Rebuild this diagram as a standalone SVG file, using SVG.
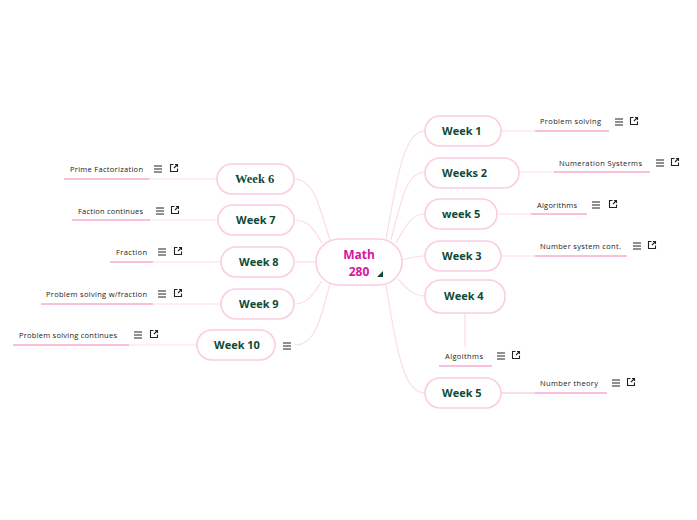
<svg xmlns="http://www.w3.org/2000/svg" width="697" height="520" viewBox="0 0 697 520">
<defs>
<style>
.node{fill:#ffffff;stroke:#fbcde3;stroke-width:1.6}
.nt{font-family:"Open Sans","Noto Sans",sans-serif;font-weight:bold;font-size:11px;fill:#0f4a36}
.ntser{font-family:"Liberation Serif","DejaVu Serif",serif;font-weight:bold;font-size:12.5px;fill:#0f4a36}
.ct{font-family:"Open Sans","Noto Sans",sans-serif;font-size:7.5px;fill:#222222}
.conn{fill:none;stroke:#fcdbea;stroke-width:1.2}
.ul{stroke:#f9bfdc;stroke-width:2}
.ic{fill:none;stroke:#222222;stroke-width:1.1}
</style>
<symbol id="ham" viewBox="0 0 8 8" overflow="visible">
<path class="ic" d="M0,1H8M0,4H8M0,7H8"/>
</symbol>
<symbol id="ext" viewBox="0 0 8 8" overflow="visible">
<path class="ic" d="M3.5,0.5H0.5V7.5H7.5V4.5M4,4L7.5,0.5M5,0.5H7.5V3"/>
</symbol>
</defs>
<rect width="697" height="520" fill="#ffffff"/>
<g id="connectors">
<path class="conn" d="M386,239 C398,170 405,131 425,131"/>
<path class="conn" d="M391,240 C402,195 408,172 425,172"/>
<path class="conn" d="M396,243 C406,225 412,214 425,214"/>
<path class="conn" d="M402,260 C412,257 416,256 425,256"/>
<path class="conn" d="M398,279 C408,290 414,296 425,296"/>
<path class="conn" d="M386,285 C398,360 405,393 425,393"/>
<path class="conn" d="M294,179 C315,179 320,210 330,240"/>
<path class="conn" d="M294,220 C310,220 315,232 322,243"/>
<path class="conn" d="M294,262 L316,262"/>
<path class="conn" d="M294,304 C310,304 315,290 322,281"/>
<path class="conn" d="M295,345 C318,345 322,310 330,284"/>
<path class="conn" d="M501,131H535"/>
<path class="conn" d="M519,172H554"/>
<path class="conn" d="M497,214H531"/>
<path class="conn" d="M501,256H535"/>
<path class="conn" d="M465,313V347"/>
<path class="conn" d="M501,393H535" style="stroke-width:2"/>
<path class="conn" d="M149,179H217"/>
<path class="conn" d="M150,220H218"/>
<path class="conn" d="M153,262H221"/>
<path class="conn" d="M153,304H221"/>
<path class="conn" d="M129,345H197"/>
</g>
<g id="center">
<rect class="node" x="316" y="239" width="86" height="46" rx="23"/>
<text x="359" y="259" text-anchor="middle" style="font-family:'Open Sans','Noto Sans',sans-serif;font-weight:bold;font-size:12px;fill:#d9159f">Math</text>
<text x="359" y="276" text-anchor="middle" style="font-family:'Open Sans','Noto Sans',sans-serif;font-weight:bold;font-size:12px;fill:#d9159f">280</text>
<polygon points="377,277 383,277 383,271" fill="#0f4a36"/>
</g>
<g id="week1">
<rect class="node" x="425" y="116" width="76" height="30" rx="15"/>
<text class="nt" x="442" y="135">Week 1</text>
</g>
<g id="weeks2">
<rect class="node" x="425" y="158" width="94" height="30" rx="15"/>
<text class="nt" x="442" y="177">Weeks 2</text>
</g>
<g id="week5a">
<rect class="node" x="425" y="199" width="72" height="30" rx="15"/>
<text class="nt" x="442" y="218">week 5</text>
</g>
<g id="week3">
<rect class="node" x="425" y="241" width="76" height="30" rx="15"/>
<text class="nt" x="442" y="260">Week 3</text>
</g>
<g id="week4">
<rect class="node" x="425" y="280" width="80" height="33" rx="16"/>
<text class="nt" x="444" y="300">Week 4</text>
</g>
<g id="week5">
<rect class="node" x="425" y="378" width="76" height="30" rx="15"/>
<text class="nt" x="442" y="397">Week 5</text>
</g>
<g id="week6">
<rect class="node" x="217" y="164" width="77" height="30" rx="15"/>
<text class="ntser" x="235" y="183">Week 6</text>
</g>
<g id="week7">
<rect class="node" x="218" y="205" width="76" height="30" rx="15"/>
<text class="nt" x="236" y="224">Week 7</text>
</g>
<g id="week8">
<rect class="node" x="221" y="247" width="73" height="30" rx="15"/>
<text class="nt" x="239" y="266">Week 8</text>
</g>
<g id="week9">
<rect class="node" x="221" y="289" width="73" height="30" rx="15"/>
<text class="nt" x="239" y="308">Week 9</text>
</g>
<g id="week10">
<rect class="node" x="197" y="330" width="78" height="30" rx="15"/>
<text class="nt" x="214" y="349">Week 10</text>
<use href="#ham" x="283" y="342" width="8" height="8"/>
</g>
<g id="c-problem-solving">
<line class="ul" x1="535" y1="131" x2="609" y2="131"/>
<text class="ct" x="540" y="124" textLength="61">Problem solving</text>
<use href="#ham" x="615" y="118" width="8" height="8"/>
<use href="#ext" x="630" y="117" width="8" height="8"/>
</g>
<g id="c-numeration">
<line class="ul" x1="554" y1="172" x2="650" y2="172"/>
<text class="ct" x="559" y="166" textLength="83">Numeration Systerms</text>
<use href="#ham" x="656" y="159" width="8" height="8"/>
<use href="#ext" x="671" y="158" width="8" height="8"/>
</g>
<g id="c-algorithms">
<line class="ul" x1="531" y1="214" x2="587" y2="214"/>
<text class="ct" x="537" y="208" textLength="40">Algorithms</text>
<use href="#ham" x="592" y="201" width="8" height="8"/>
<use href="#ext" x="609" y="200" width="8" height="8"/>
</g>
<g id="c-number-system">
<line class="ul" x1="535" y1="256" x2="627" y2="256"/>
<text class="ct" x="540" y="249" textLength="81">Number system cont.</text>
<use href="#ham" x="633" y="242" width="8" height="8"/>
<use href="#ext" x="648" y="241" width="8" height="8"/>
</g>
<g id="c-algoithms">
<line class="ul" x1="439" y1="366" x2="492" y2="366"/>
<text class="ct" x="445" y="359" textLength="38">Algoithms</text>
<use href="#ham" x="497" y="352" width="8" height="8"/>
<use href="#ext" x="512" y="351" width="8" height="8"/>
</g>
<g id="c-number-theory">
<line class="ul" x1="535" y1="393" x2="607" y2="393"/>
<text class="ct" x="540" y="386" textLength="58">Number theory</text>
<use href="#ham" x="612" y="379" width="8" height="8"/>
<use href="#ext" x="627" y="378" width="8" height="8"/>
</g>
<g id="c-prime">
<line class="ul" x1="64" y1="179" x2="149" y2="179"/>
<text class="ct" x="70" y="172" textLength="73">Prime Factorization</text>
<use href="#ham" x="154" y="165" width="8" height="8"/>
<use href="#ext" x="170" y="164" width="8" height="8"/>
</g>
<g id="c-faction">
<line class="ul" x1="72" y1="220" x2="150" y2="220"/>
<text class="ct" x="78" y="214" textLength="65">Faction continues</text>
<use href="#ham" x="156" y="207" width="8" height="8"/>
<use href="#ext" x="171" y="206" width="8" height="8"/>
</g>
<g id="c-fraction">
<line class="ul" x1="110" y1="262" x2="153" y2="262"/>
<text class="ct" x="116" y="255" textLength="31">Fraction</text>
<use href="#ham" x="158" y="248" width="8" height="8"/>
<use href="#ext" x="174" y="247" width="8" height="8"/>
</g>
<g id="c-ps-fraction">
<line class="ul" x1="41" y1="304" x2="153" y2="304"/>
<text class="ct" x="46" y="297" textLength="101">Problem solving w/fraction</text>
<use href="#ham" x="158" y="290" width="8" height="8"/>
<use href="#ext" x="174" y="289" width="8" height="8"/>
</g>
<g id="c-ps-continues">
<line class="ul" x1="13" y1="345" x2="129" y2="345"/>
<text class="ct" x="19" y="338" textLength="98">Problem solving continues</text>
<use href="#ham" x="134" y="331" width="8" height="8"/>
<use href="#ext" x="150" y="330" width="8" height="8"/>
</g>
</svg>
